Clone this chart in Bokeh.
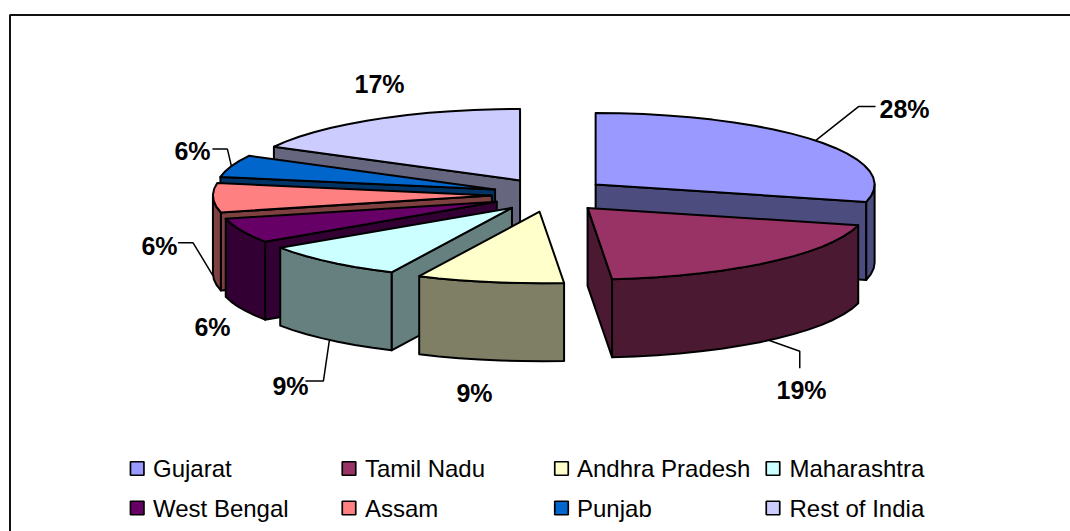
import numpy as np
from bokeh.plotting import figure
from bokeh.models import Range1d
from bokeh.core.properties import value
from bokeh.embed import file_html
from bokeh.resources import INLINE

# Data
categories = ["Gujarat", "Tamil Nadu", "Andhra Pradesh", "Maharashtra",
              "West Bengal", "Assam", "Punjab", "Rest of India"]
# share of the circle as drawn by each slice
shares = [28.9, 19.7, 8.5, 8.5, 5.6, 6.6, 5.0, 17.2]
# the percentages printed on the chart
printed = ["28%", "19%", "9%", "9%", "6%", "6%", "6%", "17%"]
colors = ["#9999FF", "#993366", "#FFFFCC", "#CCFFFF",
          "#660066", "#FF8080", "#0066CC", "#CCCCFF"]

# Layout (window pixels)
CX, CY = 549.4, 194.5
RX, RY = 279.0, 71.5
DEPTH = 78.0
EXPLODE_X, EXPLODE_Y = 58.0, 17.0
STEP = 5.0
draw_order = [7, 6, 5, 4, 3, 0, 1, 2]
label_xy = [(904, 108), (801, 389), (474, 392), (290, 385),
            (212, 326), (159, 245), (192, 150), (379, 83)]
# leader elbows relative to the rim anchor of each slice
leaders = {0: [(43, -34), (60, -34)], 1: [(31, 11), (31, 28)],
           3: [(-6, 41), (-24, 41)], 5: [(-20, -33), (-35, -33)],
           6: [(-4, -17), (-19, -17)]}
legend_cols = [(136.7, 152.5), (348.5, 364.5), (561, 576.5), (772.5, 789)]
legend_rows = [468, 507.5]
legend_slots = [(0, 0), (1, 0), (2, 0), (3, 0), (0, 1), (1, 1), (2, 1), (3, 1)]

p = figure(width=1070, height=531, x_range=Range1d(0, 1070), y_range=Range1d(531, 0),
           x_axis_type=None, y_axis_type=None, toolbar_location=None,
           output_backend="svg", min_border=0, outline_line_color=None,
           background_fill_color="white", border_fill_color="white")
p.grid.visible = False

# chart frame, cut off at the right and the bottom of the picture
p.line([9.5, 9.5, 1070], [531, 14.5, 14.5], line_color="#111111", line_width=2)


def darker(hex_color):
    r, g, b = (int(hex_color[i:i + 2], 16) // 2 for i in (1, 3, 5))
    return f"#{r:02x}{g:02x}{b:02x}"


bounds = np.concatenate([[0], np.cumsum(shares)]) * 360.0 / sum(shares)
geom = []
for a0, a1 in zip(bounds[:-1], bounds[1:]):
    mid = np.radians((a0 + a1) / 2)
    ax = CX + EXPLODE_X * np.sin(mid)
    ay = CY - EXPLODE_Y * np.cos(mid)
    geom.append((a0, a1, ax, ay, np.degrees(mid)))


def rim(ax, ay, deg):
    t = np.radians(deg)
    return ax + RX * np.sin(t), ay - RY * np.cos(t)


EDGE = dict(line_color="black", line_width=2, line_join="round")
for i in draw_order:
    a0, a1, ax, ay, mid = geom[i]
    wall = darker(colors[i])
    # visible radial walls
    if np.sin(np.radians(a0)) < -1e-6:
        x, y = rim(ax, ay, a0)
        p.patch([ax, x, x, ax], [ay, y, y + DEPTH, ay + DEPTH], fill_color=wall, **EDGE)
    if np.sin(np.radians(a1)) > 1e-6:
        x, y = rim(ax, ay, a1)
        p.patch([ax, x, x, ax], [ay, y, y + DEPTH, ay + DEPTH], fill_color=wall, **EDGE)
    # visible outer wall (front half of the rim)
    lo, hi = max(a0, 90.0), min(a1, 270.0)
    if lo < hi:
        t = np.linspace(lo, hi, max(2, int((hi - lo) / STEP) + 2))
        x, y = rim(ax, ay, t)
        p.patch(np.r_[x, x[::-1]], np.r_[y, (y + DEPTH)[::-1]], fill_color=wall, **EDGE)
    # top face
    t = np.linspace(a0, a1, max(2, int((a1 - a0) / STEP) + 2))
    x, y = rim(ax, ay, t)
    p.patch(np.r_[ax, x], np.r_[ay, y], fill_color=colors[i], **EDGE)

# leader lines start on the rim at the middle of their slice
for i, elbows in leaders.items():
    a0, a1, ax, ay, mid = geom[i]
    x, y = rim(ax, ay, mid)
    if np.cos(np.radians(mid)) < 0:
        y += DEPTH
    p.line([x] + [x + dx for dx, _ in elbows], [y] + [y + dy for _, dy in elbows],
           line_color="black", line_width=1.5)

# percentage labels
p.text([q[0] for q in label_xy], [q[1] for q in label_xy], text=printed,
       text_font=value("Liberation Sans"), text_font_style="bold", text_font_size="25px",
       text_align="center", text_baseline="middle", text_color="black")

# legend
p.scatter([legend_cols[c][0] for c, r in legend_slots],
          [legend_rows[r] for c, r in legend_slots],
          marker="square", size=13.5, fill_color=colors, line_color="black", line_width=1.7)
p.text([legend_cols[c][1] for c, r in legend_slots],
       [legend_rows[r] for c, r in legend_slots], text=categories,
       text_font=value("Liberation Sans"), text_font_size="24px",
       text_align="left", text_baseline="middle", text_color="black")

open("out.html", "w").write(file_html(p, INLINE))
